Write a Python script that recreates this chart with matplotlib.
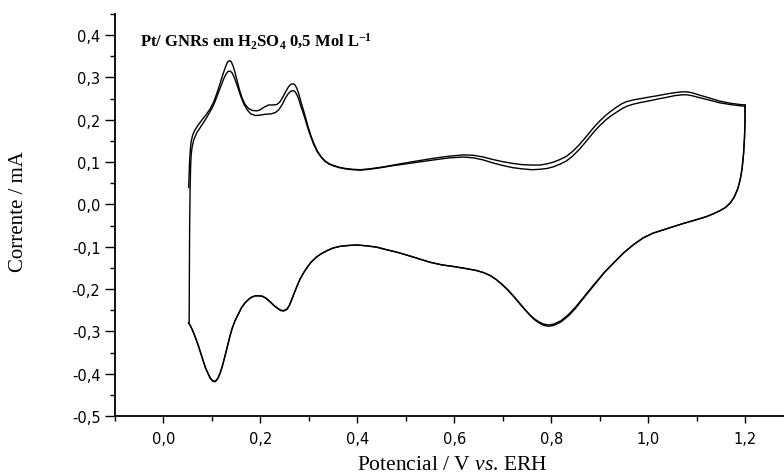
import matplotlib
matplotlib.use("Agg")
import matplotlib.pyplot as plt
from matplotlib.ticker import MultipleLocator, FuncFormatter

plt.rcParams['mathtext.fontset'] = 'custom'
plt.rcParams['mathtext.rm'] = 'Liberation Serif'
plt.rcParams['mathtext.it'] = 'Liberation Serif:italic'
plt.rcParams['mathtext.bf'] = 'Liberation Serif:bold'

# cycle 1 - anodic sweep (potential / V, current / mA)
c1_up_E = [0.052, 0.053, 0.054, 0.0555, 0.057, 0.060, 0.064, 0.070, 0.079, 0.088,
           0.097, 0.104, 0.110, 0.116, 0.122, 0.128, 0.132, 0.136, 0.140, 0.144,
           0.148, 0.152, 0.157, 0.162, 0.168, 0.176, 0.184, 0.193, 0.200, 0.208,
           0.217, 0.226, 0.234, 0.240, 0.246, 0.252, 0.258, 0.263, 0.267, 0.271,
           0.275, 0.279, 0.283, 0.288, 0.293, 0.298, 0.304, 0.310, 0.317, 0.325,
           0.333, 0.342, 0.351, 0.362, 0.375, 0.390, 0.406, 0.425, 0.450, 0.470,
           0.489, 0.520, 0.557, 0.590, 0.619, 0.640, 0.660, 0.680, 0.700, 0.720,
           0.740, 0.760, 0.777, 0.792, 0.805, 0.818, 0.832, 0.845, 0.858, 0.870,
           0.880, 0.891, 0.901, 0.912, 0.923, 0.935, 0.946, 0.956, 0.970, 0.985,
           1.004, 1.020, 1.038, 1.055, 1.070, 1.080, 1.090, 1.107, 1.128, 1.148,
           1.170, 1.190, 1.200]
c1_up_I = [0.040, 0.075, 0.105, 0.130, 0.148, 0.163, 0.174, 0.185, 0.199, 0.212,
           0.227, 0.243, 0.262, 0.283, 0.305, 0.325, 0.336, 0.340, 0.337, 0.326,
           0.310, 0.292, 0.270, 0.252, 0.237, 0.226, 0.222, 0.221, 0.224, 0.230,
           0.235, 0.235, 0.236, 0.242, 0.253, 0.266, 0.278, 0.284, 0.285, 0.283,
           0.275, 0.262, 0.245, 0.226, 0.206, 0.185, 0.163, 0.145, 0.127, 0.113,
           0.103, 0.096, 0.092, 0.088, 0.085, 0.083, 0.082, 0.084, 0.088, 0.092,
           0.096, 0.102, 0.109, 0.114, 0.117, 0.116, 0.112, 0.106, 0.101, 0.097,
           0.094, 0.093, 0.093, 0.096, 0.100, 0.106, 0.114, 0.126, 0.141, 0.157,
           0.171, 0.186, 0.198, 0.210, 0.220, 0.230, 0.238, 0.243, 0.247, 0.250,
           0.254, 0.257, 0.261, 0.264, 0.266, 0.266, 0.264, 0.258, 0.251, 0.244,
           0.239, 0.236, 0.235]

# cycle 2 - anodic sweep, starting from the end of cycle 1
c2_up_E = [0.053, 0.0535, 0.054, 0.055, 0.056, 0.057, 0.059, 0.0625, 0.069, 0.076,
           0.088, 0.100, 0.106, 0.112, 0.118, 0.124, 0.129, 0.133, 0.137, 0.141,
           0.145, 0.150, 0.155, 0.160, 0.166, 0.173, 0.180, 0.190, 0.200, 0.210,
           0.222, 0.231, 0.238, 0.245, 0.251, 0.257, 0.262, 0.267, 0.271, 0.275,
           0.279, 0.283, 0.288, 0.293, 0.298, 0.304, 0.310, 0.317, 0.325, 0.333,
           0.342, 0.351, 0.362, 0.375, 0.390, 0.406, 0.425, 0.450, 0.470, 0.489,
           0.520, 0.557, 0.590, 0.619, 0.640, 0.660, 0.680, 0.700, 0.720, 0.740,
           0.760, 0.777, 0.792, 0.805, 0.818, 0.832, 0.845, 0.858, 0.870, 0.880,
           0.891, 0.901, 0.912, 0.923, 0.935, 0.946, 0.956, 0.970, 0.985, 1.004,
           1.020, 1.038, 1.055, 1.070, 1.080, 1.090, 1.107, 1.128, 1.148, 1.170,
           1.190, 1.200]
c2_up_I = [-0.280, -0.150, -0.050, 0.040, 0.090, 0.115, 0.135, 0.153, 0.170, 0.182,
           0.203, 0.227, 0.242, 0.260, 0.278, 0.296, 0.308, 0.314, 0.315, 0.312,
           0.303, 0.288, 0.271, 0.254, 0.237, 0.223, 0.214, 0.210, 0.211, 0.213,
           0.214, 0.217, 0.224, 0.236, 0.250, 0.261, 0.267, 0.269, 0.267, 0.260,
           0.249, 0.234, 0.217, 0.199, 0.180, 0.160, 0.142, 0.125, 0.112, 0.102,
           0.095, 0.091, 0.087, 0.084, 0.082, 0.081, 0.083, 0.087, 0.091, 0.094,
           0.099, 0.105, 0.110, 0.112, 0.110, 0.105, 0.098, 0.092, 0.087, 0.084,
           0.082, 0.083, 0.085, 0.089, 0.095, 0.103, 0.115, 0.130, 0.146, 0.160,
           0.175, 0.187, 0.199, 0.209, 0.218, 0.226, 0.232, 0.237, 0.241, 0.245,
           0.249, 0.253, 0.257, 0.259, 0.259, 0.257, 0.252, 0.246, 0.240, 0.236,
           0.233, 0.232]

# cathodic sweep potentials (shared by both cycles)
down_E = [1.200, 1.200, 1.199, 1.197, 1.194, 1.190, 1.185, 1.178, 1.170, 1.160,
          1.148, 1.135, 1.120, 1.100, 1.070, 1.040, 1.010, 0.990, 0.970, 0.950,
          0.930, 0.910, 0.890, 0.870, 0.850, 0.835, 0.820, 0.805, 0.795, 0.785,
          0.775, 0.765, 0.757, 0.745, 0.733, 0.722, 0.710, 0.698, 0.686, 0.674,
          0.660, 0.645, 0.626, 0.600, 0.575, 0.551, 0.520, 0.500, 0.482, 0.460,
          0.440, 0.420, 0.400, 0.382, 0.365, 0.350, 0.338, 0.325, 0.315, 0.305,
          0.297, 0.290, 0.282, 0.276, 0.270, 0.265, 0.260, 0.255, 0.248, 0.242,
          0.236, 0.228, 0.220, 0.212, 0.204, 0.197, 0.190, 0.182, 0.175, 0.168,
          0.161, 0.155, 0.148, 0.142, 0.137, 0.132, 0.127, 0.122, 0.117, 0.112,
          0.107, 0.102, 0.097, 0.092, 0.087, 0.082, 0.077, 0.072, 0.067, 0.062,
          0.057, 0.052]
c1_down_I = [0.235, 0.200, 0.160, 0.120, 0.085, 0.058, 0.037, 0.018, 0.004, -0.007,
             -0.015, -0.022, -0.029, -0.036, -0.046, -0.057, -0.068, -0.079, -0.095, -0.114,
             -0.137, -0.160, -0.187, -0.215, -0.243, -0.261, -0.275, -0.283, -0.285, -0.283,
             -0.278, -0.270, -0.262, -0.247, -0.231, -0.216, -0.201, -0.188, -0.177, -0.168,
             -0.161, -0.156, -0.152, -0.147, -0.143, -0.137, -0.126, -0.119, -0.113, -0.107,
             -0.101, -0.098, -0.096, -0.097, -0.099, -0.103, -0.109, -0.117, -0.125, -0.136,
             -0.148, -0.160, -0.176, -0.192, -0.209, -0.224, -0.238, -0.247, -0.251, -0.250,
             -0.246, -0.239, -0.230, -0.222, -0.217, -0.216, -0.216, -0.219, -0.225, -0.233,
             -0.244, -0.258, -0.274, -0.292, -0.312, -0.335, -0.358, -0.380, -0.398, -0.411,
             -0.418, -0.417, -0.411, -0.400, -0.387, -0.370, -0.352, -0.334, -0.318, -0.303,
             -0.290, -0.280]
c2_down_I = [0.232, 0.200, 0.160, 0.120, 0.085, 0.058, 0.037, 0.018, 0.004, -0.007,
             -0.015, -0.022, -0.029, -0.036, -0.046, -0.057, -0.068, -0.079, -0.095, -0.114,
             -0.137, -0.161, -0.189, -0.217, -0.246, -0.264, -0.278, -0.286, -0.288, -0.286,
             -0.280, -0.272, -0.263, -0.248, -0.232, -0.217, -0.202, -0.189, -0.177, -0.168,
             -0.161, -0.156, -0.152, -0.147, -0.143, -0.137, -0.126, -0.119, -0.113, -0.107,
             -0.101, -0.098, -0.096, -0.097, -0.099, -0.103, -0.109, -0.117, -0.125, -0.136,
             -0.148, -0.160, -0.176, -0.192, -0.209, -0.224, -0.238, -0.248, -0.252, -0.251,
             -0.246, -0.239, -0.230, -0.222, -0.217, -0.216, -0.216, -0.219, -0.225, -0.233,
             -0.244, -0.258, -0.274, -0.292, -0.312, -0.335, -0.358, -0.380, -0.399, -0.412,
             -0.419, -0.418, -0.412, -0.400, -0.387, -0.370, -0.352, -0.334, -0.318, -0.303,
             -0.290, -0.280]

fig = plt.figure(figsize=(7.84, 4.77), dpi=100)
ax = fig.add_axes([0.1467, 0.1258, 0.8654, 0.8428])

for E, I in [(c1_up_E, c1_up_I), (down_E, c1_down_I),
             (c2_up_E, c2_up_I), (down_E, c2_down_I)]:
    ax.plot(E, I, color='black', lw=1.0, solid_joinstyle='round')

ax.set_xlim(-0.1, 1.3)
ax.set_ylim(-0.5, 0.45)

ax.spines['top'].set_visible(False)
ax.spines['right'].set_visible(False)
ax.spines['left'].set_linewidth(1.3)
ax.spines['bottom'].set_linewidth(1.3)

ax.xaxis.set_major_locator(MultipleLocator(0.2))
ax.xaxis.set_minor_locator(MultipleLocator(0.1))
ax.yaxis.set_major_locator(MultipleLocator(0.1))
ax.yaxis.set_minor_locator(MultipleLocator(0.05))
comma = FuncFormatter(lambda v, p: ('%.1f' % v).replace('.', ',').replace('-0,0', '0,0'))
ax.xaxis.set_major_formatter(comma)
ax.yaxis.set_major_formatter(comma)
ax.tick_params(axis='y', which='major', direction='out', length=7, width=1.0,
               labelsize=10.5, pad=3.5)
ax.tick_params(axis='y', which='minor', direction='out', length=3.5, width=1.0)
ax.tick_params(axis='x', which='major', direction='out', length=5, width=1.0,
               labelsize=10.5, pad=6)
ax.tick_params(axis='x', which='minor', direction='out', length=3.5, width=1.0)
for lab in ax.get_xticklabels() + ax.get_yticklabels():
    lab.set_family('DejaVu Sans')

ax.set_xlabel(r'Potencial / V $\mathit{vs}$. ERH', family='Liberation Serif',
              fontsize=15.5)
ax.xaxis.set_label_coords(0.497, -0.098)
ax.set_ylabel('Corrente / mA', family='Liberation Serif', fontsize=15)
ax.yaxis.set_label_coords(-0.128, 0.51)

ax.text(0.0365, 0.96, r'Pt/ GNRs em H$_\mathbf{2}$SO$_\mathbf{4}$ 0,5 Mol L$^\mathbf{-1}$',
        transform=ax.transAxes, family='Liberation Serif', fontweight='bold',
        fontsize=12, va='top', ha='left')

fig.savefig('out.png', dpi=100)
